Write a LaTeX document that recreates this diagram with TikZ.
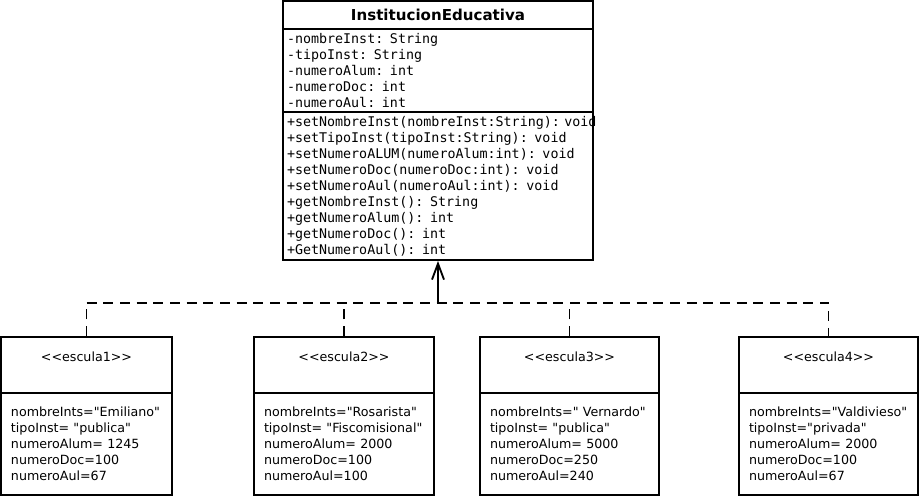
\documentclass[tikz,border=0pt]{standalone}
\usepackage{fontspec}
\setmainfont{DejaVu Sans}[Ligatures=TeXOff]
\setmonofont{DejaVu Sans Mono}[Ligatures=TeXOff]
\usepackage{xcolor}
\usetikzlibrary{arrows.meta,positioning}
\definecolor{ink}{HTML}{000000}
\tikzset{
  classtitle/.style={draw=ink,line width=1.4pt,
                     minimum width=232.5pt,minimum height=21pt,
                     inner sep=0pt,font=\fontsize{11.3}{13}\selectfont\bfseries},
  classpart/.style={draw=ink,line width=1.4pt,text width=226.5pt,
                    inner xsep=3pt,inner ysep=1pt,align=left,
                    font=\fontsize{10}{12}\selectfont\ttfamily},
  objhead/.style={draw=ink,line width=1.4pt,minimum width=#1,
                  minimum height=42pt,inner sep=0pt,align=center,
                  font=\fontsize{9.5}{12}\selectfont},
  objbody/.style={draw=ink,line width=1.4pt,minimum height=76.5pt,
                  inner xsep=7.5pt,inner ysep=0pt,align=left,
                  font=\fontsize{9.5}{12}\selectfont},
  realline/.style={line width=1.4pt,dash pattern=on 7.5pt off 5pt},
  implarr/.style={-{Straight Barb[length=12pt,width=9pt]},line width=1.4pt}
}

\begin{document}
\begin{tikzpicture}[x=0.75pt,y=-0.75pt]
  \useasboundingbox (0,0) rectangle (921,496);
  % class
  \node[classtitle] (title) at (438,15) {InstitucionEducativa};
  \node[classpart,minimum height=62.25pt] (attrs) at (438,70.5) {-nombreInst: String\\-tipoInst: String\\-numeroAlum: int\\-numeroDoc: int\\-numeroAul: int};
  \node[classpart,minimum height=111pt] (meth) at (438,186) {+setNombreInst(nombreInst:String):~void\\+setTipoInst(tipoInst:String): void\\+setNumeroALUM(numeroAlum:int): void\\+setNumeroDoc(numeroDoc:int): void\\+setNumeroAul(numeroAul:int): void\\+getNombreInst(): String\\+getNumeroAlum(): int\\+getNumeroDoc(): int\\+GetNumeroAul(): int};
  % objects
  \node[objhead=128.25pt] (head1) at (86.5,365) {<<escula1>>\\\mbox{}};
  \node[objbody,text width=113.25pt] (body1) at (86.5,444) {nombreInts="Emiliano"\\tipoInst= "publica"\\numeroAlum= 1245\\numeroDoc=100\\numeroAul=67};
  \node[objhead=135pt] (head2) at (344,365) {<<escula2>>\\\mbox{}};
  \node[objbody,text width=120pt] (body2) at (344,444) {nombreInts="Rosarista"\\tipoInst= "Fiscomisional"\\numeroAlum= 2000\\numeroDoc=100\\numeroAul=100};
  \node[objhead=134.25pt] (head3) at (569.5,365) {<<escula3>>\\\mbox{}};
  \node[objbody,text width=119.25pt] (body3) at (569.5,444) {nombreInts=" Vernardo"\\tipoInst= "publica"\\numeroAlum= 5000\\numeroDoc=250\\numeroAul=240};
  \node[objhead=134.25pt] (head4) at (828.5,365) {<<escula4>>\\\mbox{}};
  \node[objbody,text width=119.25pt] (body4) at (828.5,444) {nombreInts="Valdivieso"\\tipoInst="privada"\\numeroAlum= 2000\\numeroDoc=100\\numeroAul=67};
  % realization
  \path (meth.south) ++(0,42) coordinate (bus);
  \draw[realline] (head1.north) -- (head1.north |- bus) -- (head4.north |- bus) -- (head4.north);
  \draw[realline] (head2.north) -- (head2.north |- bus);
  \draw[realline] (head3.north) -- (head3.north |- bus);
  \draw[implarr] (bus) -- (meth.south);
\end{tikzpicture}
\end{document}
